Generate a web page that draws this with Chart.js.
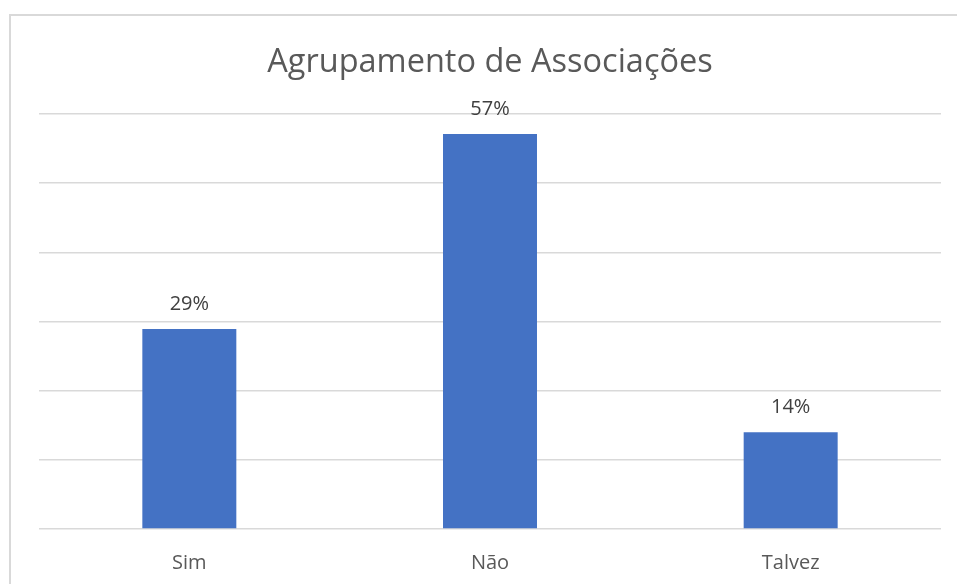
<!DOCTYPE html>
<html>
<head>
<meta charset="utf-8">
<script src="https://cdn.jsdelivr.net/npm/chart.js@4/dist/chart.umd.min.js"></script>
<style>
  html, body { margin: 0; padding: 0; background: #ffffff; }
  #wrap { position: relative; width: 957px; height: 584px; overflow: hidden; }
  #frame { position: absolute; left: 9px; top: 14px; width: 1000px; height: 700px;
           border-left: 2px solid #d9d9d9; border-top: 2px solid #d9d9d9; box-sizing: border-box; }
  canvas { position: absolute; left: 0; top: 0; }
</style>
</head>
<body>
<div id="wrap">
  <div id="frame"></div>
  <canvas id="c" width="957" height="584"></canvas>
</div>
<script>
const titleText = "Agrupamento de Associações";
const categories = ["Sim", "Não", "Talvez"];
const values = [28.9, 57.1, 14.0];          // percent
const valueLabels = ["29%", "57%", "14%"];
const yMax = 60;
const yStep = 10;

const labelPlugin = {
  id: 'barLabels',
  afterDatasetsDraw(chart) {
    const ctx = chart.ctx;
    const meta = chart.getDatasetMeta(0);
    ctx.save();
    ctx.font = '20px "Open Sans"';
    ctx.fillStyle = '#404040';
    ctx.textAlign = 'center';
    ctx.textBaseline = 'alphabetic';
    meta.data.forEach((bar, i) => {
      ctx.fillText(valueLabels[i], bar.x, bar.y - 19);
    });
    ctx.restore();
  }
};

new Chart(document.getElementById('c'), {
  type: 'bar',
  data: {
    labels: categories,
    datasets: [{
      data: values,
      backgroundColor: '#4472c4',
      borderWidth: 0,
      barPercentage: 0.3126,
      categoryPercentage: 1.0
    }]
  },
  options: {
    responsive: false,
    animation: false,
    devicePixelRatio: 1,
    layout: { padding: { left: 39, right: 16, top: 0, bottom: 0 } },
    plugins: {
      legend: { display: false },
      tooltip: { enabled: false },
      title: {
        display: true,
        text: titleText,
        color: '#595959',
        font: { family: '"Open Sans"', size: 32.5, weight: 'normal', lineHeight: 1.2 },
        padding: { top: 43, bottom: 32 }
      }
    },
    scales: {
      x: {
        grid: { display: false, drawTicks: false },
        border: { display: false },
        ticks: { color: '#595959', font: { family: '"Open Sans"', size: 20 }, padding: 22 },
        afterFit(scale) { scale.height = 55; }
      },
      y: {
        min: 0, max: yMax,
        ticks: { display: false, stepSize: yStep },
        grid: { color: '#d9d9d9', lineWidth: 1.5, drawTicks: false },
        border: { display: false }
      }
    }
  },
  plugins: [labelPlugin]
});
</script>
</body>
</html>
